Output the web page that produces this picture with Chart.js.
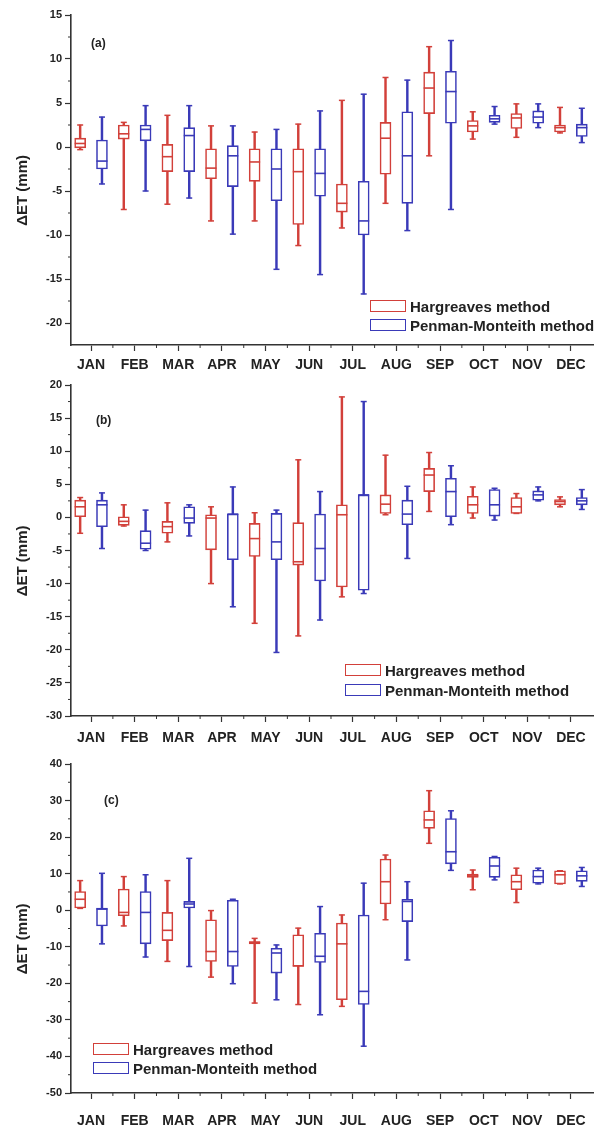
<!DOCTYPE html>
<html>
<head>
<meta charset="utf-8">
<script src="https://cdn.jsdelivr.net/npm/chart.js@4.4.0/dist/chart.umd.min.js"></script>
<style>
  body { margin: 0; background: #fff; width: 594px; height: 1126px; position: relative; overflow: hidden; font-family: "Liberation Sans", Arial, sans-serif; color: #222; }
  .panel { position: absolute; left: 0; width: 602px; }
  .tag { position: absolute; font: bold 12px "Liberation Sans", Arial, sans-serif; line-height: 14px; }
  .leg { position: absolute; display: flex; align-items: center; height: 14px; font: bold 15px "Liberation Sans", Arial, sans-serif; white-space: nowrap; }
  .leg span { display: inline-block; width: 36px; height: 12px; box-sizing: border-box; border: 1.5px solid; margin-right: 4px; background: #fff; }
</style>
</head>
<body>
<div class="panel" style="top:0;height:372px"><canvas id="chartA" width="602" height="372"></canvas></div>
<div class="panel" style="top:372px;height:372px"><canvas id="chartB" width="602" height="372"></canvas></div>
<div class="panel" style="top:744px;height:382px"><canvas id="chartC" width="602" height="382"></canvas></div>

<div class="tag" style="left:91px;top:36px">(a)</div>
<div class="tag" style="left:96px;top:413px">(b)</div>
<div class="tag" style="left:104px;top:793px">(c)</div>

<div class="leg" style="left:370px;top:299px"><span style="border-color:#d2403a"></span>Hargreaves method</div>
<div class="leg" style="left:370px;top:318px"><span style="border-color:#3a3ab8"></span>Penman-Monteith method</div>
<div class="leg" style="left:345px;top:663px"><span style="border-color:#d2403a"></span>Hargreaves method</div>
<div class="leg" style="left:345px;top:683px"><span style="border-color:#3a3ab8"></span>Penman-Monteith method</div>
<div class="leg" style="left:93px;top:1042px"><span style="border-color:#d2403a"></span>Hargreaves method</div>
<div class="leg" style="left:93px;top:1061px"><span style="border-color:#3a3ab8"></span>Penman-Monteith method</div>

<script>
// month labels
const MONTHS = ['JAN', 'FEB', 'MAR', 'APR', 'MAY', 'JUN', 'JUL', 'AUG', 'SEP', 'OCT', 'NOV', 'DEC'];

// each month: [min, q1, median, q3, max]
// (a)
const aHar = [[-0.3,-0.1,0.4,1.0,2.5],[-7.1,0.9,1.5,2.5,2.8],[-6.5,-2.8,-1.1,0.3,3.6],[-8.4,-3.6,-2.4,-0.2,2.4],
              [-8.4,-3.9,-1.7,-0.2,1.7],[-11.2,-8.8,-2.8,-0.2,2.6],[-9.2,-7.4,-6.4,-4.2,5.3],[-6.4,-3.1,1.0,2.8,7.9],
              [-1.0,3.8,6.7,8.5,11.4],[0.9,1.7,2.4,3.0,4.0],[1.1,2.1,3.3,3.8,4.9],[1.6,1.7,2.2,2.5,4.5]];
const aPM  = [[-4.2,-2.5,-1.6,0.8,3.4],[-5.0,0.7,2.0,2.5,4.7],[-5.8,-2.8,1.3,2.2,4.7],[-9.9,-4.5,-1.0,0.15,2.4],
              [-13.9,-6.1,-2.5,-0.2,2.0],[-14.5,-5.6,-3.0,-0.2,4.1],[-16.7,-10.0,-8.4,-3.9,6.0],[-9.5,-6.4,-1.0,4.0,7.6],
              [-7.1,2.7,6.3,8.6,12.1],[2.6,2.8,3.2,3.6,4.6],[2.2,2.7,3.4,4.1,4.9],[0.5,1.2,2.2,2.6,4.4]];
// (b)
const bHar = [[-2.4,0.1,1.6,2.6,3.0],[-1.3,-1.2,-0.6,0.1,1.9],[-3.7,-2.4,-1.4,-0.6,2.2],[-10.0,-4.9,-0.1,0.4,1.6],
              [-16.0,-5.9,-3.2,-0.9,0.7],[-17.9,-7.2,-6.7,-0.8,8.7],[-12.0,-10.5,0.4,1.9,18.2],[0.4,0.6,2.0,3.4,9.4],
              [0.9,3.9,6.4,7.4,9.8],[-0.1,0.6,1.9,3.2,4.6],[0.6,0.6,1.6,3.0,3.6],[1.6,1.9,2.4,2.7,3.1]];
const bPM  = [[-4.7,-1.4,1.9,2.6,3.7],[-5.0,-4.8,-3.9,-2.0,1.1],[-2.8,-0.9,-0.1,1.6,1.9],[-13.5,-6.4,0.5,0.5,4.6],
              [-20.4,-6.4,-3.7,0.6,1.1],[-15.5,-9.6,-4.7,0.5,3.9],[-11.5,-11.0,3.4,3.4,17.5],[-6.2,-1.1,0.5,2.6,4.7],
              [-1.1,0.1,3.9,5.9,7.8],[-0.4,0.2,1.9,4.2,4.4],[2.5,2.6,3.4,4.0,4.6],[1.2,1.9,2.5,3.0,4.2]];
// (c)
const cHar = [[0.5,0.6,3.0,5.1,8.1],[-4.3,-1.5,-0.6,5.8,9.2],[-14.0,-8.3,-5.5,-0.6,8.1],[-18.3,-14.0,-11.3,-2.6,-0.1],
              [-25.4,-9.2,-8.8,-8.6,-7.7],[-25.8,-15.4,-15.2,-6.7,-4.9],[-26.3,-24.5,-9.2,-3.5,-1.3],[-2.6,1.7,7.8,14.0,15.1],
              [18.3,22.4,24.7,27.2,32.7],[5.6,9.0,9.4,9.9,11.0],[2.1,5.6,7.8,9.7,11.5],[7.2,7.2,9.7,10.8,10.8]];
const cPM  = [[-9.2,-4.3,0.3,0.6,10.1],[-12.8,-9.2,-0.6,5.1,9.7],[-15.4,0.6,1.7,2.4,14.2],[-20.1,-15.4,-11.3,2.7,3.0],
              [-24.5,-17.2,-11.7,-10.4,-9.5],[-28.6,-14.3,-12.6,-6.3,1.0],[-37.2,-25.8,-22.2,-1.3,7.4],[-13.6,-3.1,2.4,3.0,7.8],
              [10.9,12.7,16.0,25.1,27.2],[8.3,9.0,12.1,14.5,14.7],[7.2,7.4,9.2,11.0,11.5],[6.5,7.9,9.4,10.8,11.7]];

// y tick labels
const aTicks = [-20, -15, -10, -5, 0, 5, 10, 15];
const bTicks = [-30, -25, -20, -15, -10, -5, 0, 5, 10, 15, 20];
const cTicks = [-50, -40, -30, -20, -10, 0, 10, 20, 30, 40];

const RED = '#d2403a';
const BLUE = '#3a3ab8';
const AXIS = '#333';

// box = floating bar, whisker = thin floating bar, median/caps = line points
function boxSets(stats, color, shift) {
    const xs = stats.map((s, i) => i + 1 + shift);
    return [
        { type: 'scatter', order: 0, data: stats.map((s, i) => ({ x: xs[i], y: s[2] })),
          pointStyle: 'line', pointRadius: 5.5, pointBorderColor: color, pointBorderWidth: 1.6 },
        { type: 'scatter', order: 1, data: stats.flatMap((s, i) => [{ x: xs[i], y: s[0] }, { x: xs[i], y: s[4] }]),
          pointStyle: 'line', pointRadius: 3, pointBorderColor: color, pointBorderWidth: 1.5 },
        { type: 'bar', order: 2, grouped: false, data: stats.map((s, i) => ({ x: xs[i], y: [s[1], s[3]] })),
          backgroundColor: '#fff', borderColor: color, borderWidth: 1.6, borderSkipped: false, barThickness: 11 },
        { type: 'bar', order: 3, grouped: false, data: stats.map((s, i) => ({ x: xs[i], y: [s[0], s[4]] })),
          backgroundColor: color, borderWidth: 0, barThickness: 1.8 }
    ];
}

// short minor ticks halfway between the major ones
const minorTicks = {
    id: 'minorTicks',
    afterDraw(chart) {
        const { ctx, scales: { x, y } } = chart;
        ctx.save();
        ctx.strokeStyle = AXIS;
        ctx.lineWidth = 1;
        const yt = y.ticks.map(t => t.value);
        for (let i = 0; i < yt.length - 1; i++) {
            const py = y.getPixelForValue((yt[i] + yt[i + 1]) / 2);
            ctx.beginPath(); ctx.moveTo(x.left - 3, py); ctx.lineTo(x.left, py); ctx.stroke();
        }
        for (let m = 1.5; m < 12; m++) {
            const px = x.getPixelForValue(m);
            ctx.beginPath(); ctx.moveTo(px, y.bottom); ctx.lineTo(px, y.bottom + 3); ctx.stroke();
        }
        ctx.restore();
    }
};

function drawPanel(id, har, pm, yTicks, yMin, padTop, xHeight, labelPad) {
    return new Chart(document.getElementById(id), {
        type: 'bar',
        data: { datasets: [...boxSets(har, RED, -0.25), ...boxSets(pm, BLUE, 0.25)] },
        options: {
            responsive: false,
            devicePixelRatio: 1,
            animation: false,
            layout: { padding: { top: padTop, right: 0, bottom: 0, left: 0 } },
            plugins: { legend: { display: false }, tooltip: { enabled: false } },
            scales: {
                x: {
                    type: 'linear', offset: false, min: 0.54, max: 12.55,
                    afterBuildTicks: s => { s.ticks = MONTHS.map((m, i) => ({ value: i + 1 })); },
                    afterFit: s => { s.height = xHeight; s.paddingLeft = 0; s.paddingRight = 0; },
                    grid: { offset: false, drawOnChartArea: false, tickLength: 6, tickColor: AXIS, tickWidth: 1.2 },
                    border: { color: AXIS, width: 1.6 },
                    ticks: { autoSkip: false, maxRotation: 0, padding: labelPad, color: '#222',
                             font: { family: 'Liberation Sans', size: 14, weight: 'bold' },
                             callback: v => MONTHS[v - 1] }
                },
                y: {
                    min: yMin,
                    max: yTicks[yTicks.length - 1],
                    afterBuildTicks: s => { s.ticks = yTicks.map(v => ({ value: v })); },
                    afterFit: s => { s.width = 71; },
                    grid: { drawOnChartArea: false, tickLength: 6, tickColor: AXIS, tickWidth: 1.2 },
                    border: { color: AXIS, width: 1.6 },
                    ticks: { padding: 3, color: '#222', font: { family: 'Liberation Sans', size: 11, weight: 'bold' } },
                    title: { display: true, text: 'ΔET (mm)     ', color: '#222', padding: { top: 14, bottom: 0 },
                             font: { family: 'Liberation Sans', size: 15, weight: 'bold' } }
                }
            }
        },
        plugins: [minorTicks]
    });
}

drawPanel('chartA', aHar, aPM, aTicks, -22.5, 15, 27, 6);
drawPanel('chartB', bHar, bPM, bTicks, -30, 13, 28, 8);
drawPanel('chartC', cHar, cPM, cTicks, -50, 20, 33, 14);
</script>
</body>
</html>
